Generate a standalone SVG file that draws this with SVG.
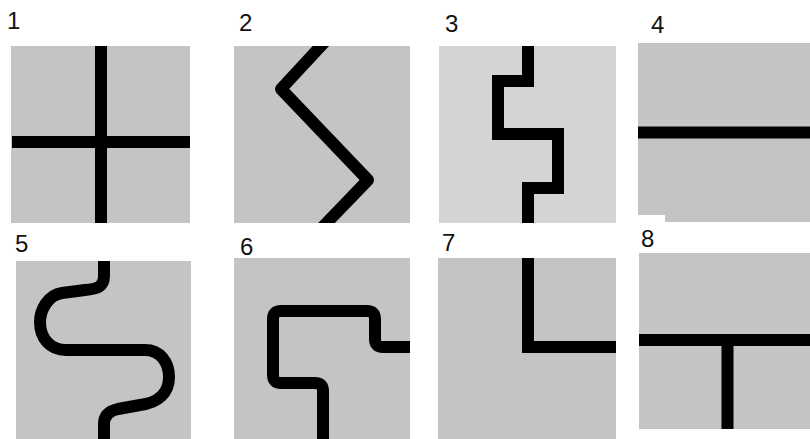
<svg xmlns="http://www.w3.org/2000/svg" width="810" height="439" viewBox="0 0 810 439">
<style>
.bg{fill:#c4c4c4}
.bg2{fill:#d4d4d4}
.ln{fill:none;stroke:#000;stroke-width:12}
.lbl{font-family:"Liberation Sans",Arial,sans-serif;font-size:24px;fill:#111}
</style>
<defs>
<clipPath id="clip2"><rect x="234" y="46" width="176" height="177"/></clipPath>
</defs>
<rect width="810" height="439" fill="#fff"/>
<g id="panel1">
<rect class="bg" x="11" y="46" width="179" height="177"/>
<path class="ln" d="M101,46 V223 M12,142 H190"/>
<text class="lbl" x="7" y="29">1</text>
</g>
<g id="panel2">
<rect class="bg" x="234" y="46" width="176" height="177"/>
<path class="ln" clip-path="url(#clip2)" stroke-linejoin="round" d="M332,34 L281,89 L368,180 L314,236"/>
<text class="lbl" x="239" y="31">2</text>
</g>
<g id="panel3">
<rect class="bg2" x="439" y="46" width="177" height="177"/>
<path class="ln" d="M528,46 V81 H498 V134 H558 V188 H528 V223"/>
<text class="lbl" x="445" y="32">3</text>
</g>
<g id="panel4">
<polygon class="bg" points="638,43 810,43 810,222 665,222 665,215 638,215"/>
<path class="ln" d="M638,132.5 H810"/>
<text class="lbl" x="651" y="33">4</text>
</g>
<g id="panel5">
<rect class="bg" x="16" y="261" width="175" height="178"/>
<path class="ln" d="M104,261 V276 C104,287 97,289 85,290 L62,293 C48,295 40,310 40,322 C40,338 50,350 66,350 H145 C160,350 169,362 169,377 C169,393 158,403 140,405 L118,409 C109,411 104,416 104,424 V439"/>
<text class="lbl" x="15" y="252">5</text>
</g>
<g id="panel6">
<rect class="bg" x="234" y="258" width="176" height="181"/>
<path class="ln" d="M410,347 H383 Q375,347 375,339 V319 Q375,311 367,311 H281 Q273,311 273,319 V375 Q273,383 281,383 H315 Q323,383 323,391 V439"/>
<text class="lbl" x="240" y="255">6</text>
</g>
<g id="panel7">
<rect class="bg" x="438" y="258" width="178" height="181"/>
<path class="ln" d="M528,258 V347 H616"/>
<text class="lbl" x="442" y="251">7</text>
</g>
<g id="panel8">
<rect class="bg" x="639" y="253" width="171" height="176"/>
<path class="ln" d="M639,340 H810 M727.5,340 V429"/>
<text class="lbl" x="641" y="247">8</text>
</g>
</svg>
